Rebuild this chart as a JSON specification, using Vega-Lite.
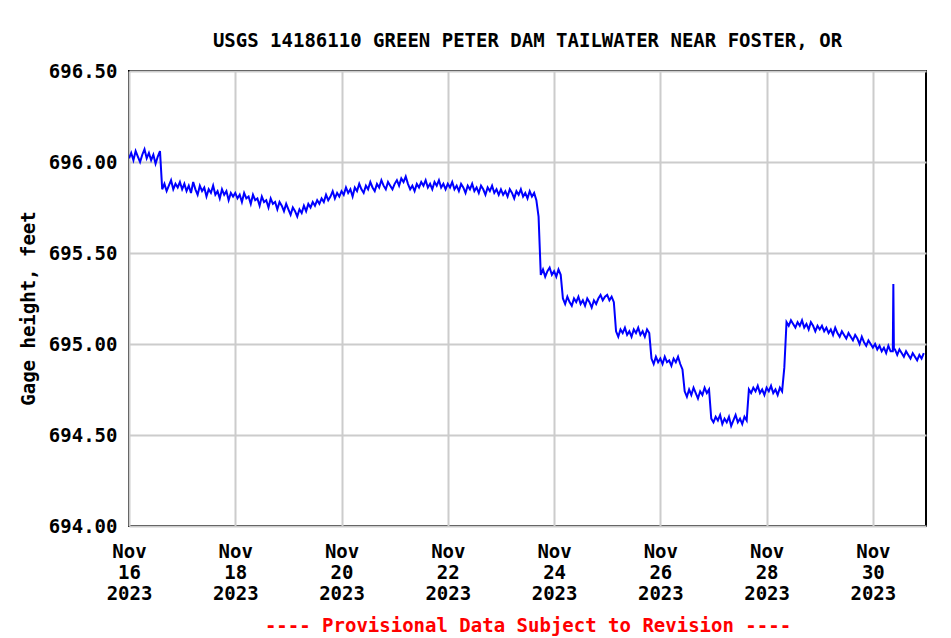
{
  "$schema": "https://vega.github.io/schema/vega-lite/v6.json",
  "width": 797,
  "height": 455,
  "autosize": "none",
  "padding": {"left": 129, "top": 71, "right": 25, "bottom": 112},
  "background": "white",
  "title": {
    "text": "USGS 14186110 GREEN PETER DAM TAILWATER NEAR FOSTER, OR",
    "font": "DejaVu Sans Mono",
    "fontSize": 19,
    "fontWeight": "bold",
    "color": "black",
    "anchor": "middle",
    "baseline": "alphabetic",
    "offset": -4
  },
  "config": {"view": {"stroke": "black", "strokeWidth": 2}},
  "data": {"values": [
{"t":"2023-11-16T00:00","v":696.02},{"t":"2023-11-16T01:00","v":696.05},{"t":"2023-11-16T02:00","v":696.01},{"t":"2023-11-16T03:00","v":696.06},{"t":"2023-11-16T04:00","v":696.03},{"t":"2023-11-16T05:00","v":696.00},{"t":"2023-11-16T06:00","v":696.04},{"t":"2023-11-16T07:00","v":696.07},{"t":"2023-11-16T08:00","v":696.02},{"t":"2023-11-16T09:00","v":696.05},{"t":"2023-11-16T10:00","v":696.01},{"t":"2023-11-16T11:00","v":696.04},{"t":"2023-11-16T12:00","v":695.99},{"t":"2023-11-16T13:00","v":696.03},{"t":"2023-11-16T14:00","v":696.06},{"t":"2023-11-16T15:00","v":695.85},{"t":"2023-11-16T16:00","v":695.88},{"t":"2023-11-16T17:00","v":695.84},{"t":"2023-11-16T18:00","v":695.87},{"t":"2023-11-16T19:00","v":695.90},{"t":"2023-11-16T20:00","v":695.85},{"t":"2023-11-16T21:00","v":695.88},{"t":"2023-11-16T22:00","v":695.86},{"t":"2023-11-16T23:00","v":695.89},
{"t":"2023-11-17T00:00","v":695.85},{"t":"2023-11-17T01:00","v":695.88},{"t":"2023-11-17T02:00","v":695.84},{"t":"2023-11-17T03:00","v":695.87},{"t":"2023-11-17T04:00","v":695.83},{"t":"2023-11-17T05:00","v":695.89},{"t":"2023-11-17T06:00","v":695.85},{"t":"2023-11-17T07:00","v":695.82},{"t":"2023-11-17T08:00","v":695.87},{"t":"2023-11-17T09:00","v":695.84},{"t":"2023-11-17T10:00","v":695.86},{"t":"2023-11-17T11:00","v":695.81},{"t":"2023-11-17T12:00","v":695.85},{"t":"2023-11-17T13:00","v":695.83},{"t":"2023-11-17T14:00","v":695.87},{"t":"2023-11-17T15:00","v":695.82},{"t":"2023-11-17T16:00","v":695.84},{"t":"2023-11-17T17:00","v":695.80},{"t":"2023-11-17T18:00","v":695.85},{"t":"2023-11-17T19:00","v":695.82},{"t":"2023-11-17T20:00","v":695.84},{"t":"2023-11-17T21:00","v":695.79},{"t":"2023-11-17T22:00","v":695.83},{"t":"2023-11-17T23:00","v":695.81},
{"t":"2023-11-18T00:00","v":695.83},{"t":"2023-11-18T01:00","v":695.80},{"t":"2023-11-18T02:00","v":695.82},{"t":"2023-11-18T03:00","v":695.78},{"t":"2023-11-18T04:00","v":695.83},{"t":"2023-11-18T05:00","v":695.80},{"t":"2023-11-18T06:00","v":695.81},{"t":"2023-11-18T07:00","v":695.77},{"t":"2023-11-18T08:00","v":695.82},{"t":"2023-11-18T09:00","v":695.79},{"t":"2023-11-18T10:00","v":695.80},{"t":"2023-11-18T11:00","v":695.76},{"t":"2023-11-18T12:00","v":695.81},{"t":"2023-11-18T13:00","v":695.78},{"t":"2023-11-18T14:00","v":695.79},{"t":"2023-11-18T15:00","v":695.75},{"t":"2023-11-18T16:00","v":695.80},{"t":"2023-11-18T17:00","v":695.77},{"t":"2023-11-18T18:00","v":695.78},{"t":"2023-11-18T19:00","v":695.74},{"t":"2023-11-18T20:00","v":695.78},{"t":"2023-11-18T21:00","v":695.76},{"t":"2023-11-18T22:00","v":695.73},{"t":"2023-11-18T23:00","v":695.77},
{"t":"2023-11-19T00:00","v":695.74},{"t":"2023-11-19T01:00","v":695.71},{"t":"2023-11-19T02:00","v":695.75},{"t":"2023-11-19T03:00","v":695.73},{"t":"2023-11-19T04:00","v":695.70},{"t":"2023-11-19T05:00","v":695.74},{"t":"2023-11-19T06:00","v":695.72},{"t":"2023-11-19T07:00","v":695.76},{"t":"2023-11-19T08:00","v":695.73},{"t":"2023-11-19T09:00","v":695.77},{"t":"2023-11-19T10:00","v":695.75},{"t":"2023-11-19T11:00","v":695.78},{"t":"2023-11-19T12:00","v":695.76},{"t":"2023-11-19T13:00","v":695.79},{"t":"2023-11-19T14:00","v":695.77},{"t":"2023-11-19T15:00","v":695.80},{"t":"2023-11-19T16:00","v":695.78},{"t":"2023-11-19T17:00","v":695.82},{"t":"2023-11-19T18:00","v":695.79},{"t":"2023-11-19T19:00","v":695.81},{"t":"2023-11-19T20:00","v":695.84},{"t":"2023-11-19T21:00","v":695.80},{"t":"2023-11-19T22:00","v":695.83},{"t":"2023-11-19T23:00","v":695.81},
{"t":"2023-11-20T00:00","v":695.84},{"t":"2023-11-20T01:00","v":695.82},{"t":"2023-11-20T02:00","v":695.86},{"t":"2023-11-20T03:00","v":695.83},{"t":"2023-11-20T04:00","v":695.85},{"t":"2023-11-20T05:00","v":695.81},{"t":"2023-11-20T06:00","v":695.86},{"t":"2023-11-20T07:00","v":695.84},{"t":"2023-11-20T08:00","v":695.88},{"t":"2023-11-20T09:00","v":695.85},{"t":"2023-11-20T10:00","v":695.83},{"t":"2023-11-20T11:00","v":695.87},{"t":"2023-11-20T12:00","v":695.85},{"t":"2023-11-20T13:00","v":695.89},{"t":"2023-11-20T14:00","v":695.86},{"t":"2023-11-20T15:00","v":695.84},{"t":"2023-11-20T16:00","v":695.88},{"t":"2023-11-20T17:00","v":695.86},{"t":"2023-11-20T18:00","v":695.90},{"t":"2023-11-20T19:00","v":695.87},{"t":"2023-11-20T20:00","v":695.85},{"t":"2023-11-20T21:00","v":695.89},{"t":"2023-11-20T22:00","v":695.87},{"t":"2023-11-20T23:00","v":695.85},
{"t":"2023-11-21T00:00","v":695.88},{"t":"2023-11-21T01:00","v":695.90},{"t":"2023-11-21T02:00","v":695.87},{"t":"2023-11-21T03:00","v":695.91},{"t":"2023-11-21T04:00","v":695.89},{"t":"2023-11-21T05:00","v":695.92},{"t":"2023-11-21T06:00","v":695.88},{"t":"2023-11-21T07:00","v":695.85},{"t":"2023-11-21T08:00","v":695.87},{"t":"2023-11-21T09:00","v":695.84},{"t":"2023-11-21T10:00","v":695.88},{"t":"2023-11-21T11:00","v":695.86},{"t":"2023-11-21T12:00","v":695.89},{"t":"2023-11-21T13:00","v":695.87},{"t":"2023-11-21T14:00","v":695.90},{"t":"2023-11-21T15:00","v":695.86},{"t":"2023-11-21T16:00","v":695.88},{"t":"2023-11-21T17:00","v":695.85},{"t":"2023-11-21T18:00","v":695.89},{"t":"2023-11-21T19:00","v":695.87},{"t":"2023-11-21T20:00","v":695.90},{"t":"2023-11-21T21:00","v":695.86},{"t":"2023-11-21T22:00","v":695.88},{"t":"2023-11-21T23:00","v":695.85},
{"t":"2023-11-22T00:00","v":695.88},{"t":"2023-11-22T01:00","v":695.86},{"t":"2023-11-22T02:00","v":695.89},{"t":"2023-11-22T03:00","v":695.85},{"t":"2023-11-22T04:00","v":695.87},{"t":"2023-11-22T05:00","v":695.84},{"t":"2023-11-22T06:00","v":695.88},{"t":"2023-11-22T07:00","v":695.86},{"t":"2023-11-22T08:00","v":695.83},{"t":"2023-11-22T09:00","v":695.87},{"t":"2023-11-22T10:00","v":695.85},{"t":"2023-11-22T11:00","v":695.88},{"t":"2023-11-22T12:00","v":695.84},{"t":"2023-11-22T13:00","v":695.86},{"t":"2023-11-22T14:00","v":695.83},{"t":"2023-11-22T15:00","v":695.87},{"t":"2023-11-22T16:00","v":695.85},{"t":"2023-11-22T17:00","v":695.82},{"t":"2023-11-22T18:00","v":695.86},{"t":"2023-11-22T19:00","v":695.84},{"t":"2023-11-22T20:00","v":695.87},{"t":"2023-11-22T21:00","v":695.83},{"t":"2023-11-22T22:00","v":695.85},{"t":"2023-11-22T23:00","v":695.82},
{"t":"2023-11-23T00:00","v":695.85},{"t":"2023-11-23T01:00","v":695.82},{"t":"2023-11-23T02:00","v":695.84},{"t":"2023-11-23T03:00","v":695.81},{"t":"2023-11-23T04:00","v":695.85},{"t":"2023-11-23T05:00","v":695.83},{"t":"2023-11-23T06:00","v":695.80},{"t":"2023-11-23T07:00","v":695.84},{"t":"2023-11-23T08:00","v":695.82},{"t":"2023-11-23T09:00","v":695.85},{"t":"2023-11-23T10:00","v":695.81},{"t":"2023-11-23T11:00","v":695.83},{"t":"2023-11-23T12:00","v":695.80},{"t":"2023-11-23T13:00","v":695.84},{"t":"2023-11-23T14:00","v":695.81},{"t":"2023-11-23T15:00","v":695.83},{"t":"2023-11-23T16:00","v":695.79},{"t":"2023-11-23T17:00","v":695.70},{"t":"2023-11-23T18:00","v":695.38},{"t":"2023-11-23T19:00","v":695.41},{"t":"2023-11-23T20:00","v":695.37},{"t":"2023-11-23T21:00","v":695.40},{"t":"2023-11-23T22:00","v":695.42},{"t":"2023-11-23T23:00","v":695.38},
{"t":"2023-11-24T00:00","v":695.40},{"t":"2023-11-24T01:00","v":695.37},{"t":"2023-11-24T02:00","v":695.41},{"t":"2023-11-24T03:00","v":695.38},{"t":"2023-11-24T04:00","v":695.25},{"t":"2023-11-24T05:00","v":695.22},{"t":"2023-11-24T06:00","v":695.26},{"t":"2023-11-24T07:00","v":695.23},{"t":"2023-11-24T08:00","v":695.21},{"t":"2023-11-24T09:00","v":695.25},{"t":"2023-11-24T10:00","v":695.23},{"t":"2023-11-24T11:00","v":695.26},{"t":"2023-11-24T12:00","v":695.22},{"t":"2023-11-24T13:00","v":695.24},{"t":"2023-11-24T14:00","v":695.21},{"t":"2023-11-24T15:00","v":695.25},{"t":"2023-11-24T16:00","v":695.23},{"t":"2023-11-24T17:00","v":695.20},{"t":"2023-11-24T18:00","v":695.24},{"t":"2023-11-24T19:00","v":695.22},{"t":"2023-11-24T20:00","v":695.25},{"t":"2023-11-24T21:00","v":695.27},{"t":"2023-11-24T22:00","v":695.24},{"t":"2023-11-24T23:00","v":695.26},
{"t":"2023-11-25T00:00","v":695.27},{"t":"2023-11-25T01:00","v":695.24},{"t":"2023-11-25T02:00","v":695.26},{"t":"2023-11-25T03:00","v":695.23},{"t":"2023-11-25T04:00","v":695.07},{"t":"2023-11-25T05:00","v":695.04},{"t":"2023-11-25T06:00","v":695.08},{"t":"2023-11-25T07:00","v":695.06},{"t":"2023-11-25T08:00","v":695.09},{"t":"2023-11-25T09:00","v":695.05},{"t":"2023-11-25T10:00","v":695.07},{"t":"2023-11-25T11:00","v":695.04},{"t":"2023-11-25T12:00","v":695.08},{"t":"2023-11-25T13:00","v":695.06},{"t":"2023-11-25T14:00","v":695.09},{"t":"2023-11-25T15:00","v":695.05},{"t":"2023-11-25T16:00","v":695.07},{"t":"2023-11-25T17:00","v":695.04},{"t":"2023-11-25T18:00","v":695.08},{"t":"2023-11-25T19:00","v":695.06},{"t":"2023-11-25T20:00","v":694.92},{"t":"2023-11-25T21:00","v":694.89},{"t":"2023-11-25T22:00","v":694.93},{"t":"2023-11-25T23:00","v":694.90},
{"t":"2023-11-26T00:00","v":694.92},{"t":"2023-11-26T01:00","v":694.89},{"t":"2023-11-26T02:00","v":694.93},{"t":"2023-11-26T03:00","v":694.90},{"t":"2023-11-26T04:00","v":694.91},{"t":"2023-11-26T05:00","v":694.88},{"t":"2023-11-26T06:00","v":694.92},{"t":"2023-11-26T07:00","v":694.90},{"t":"2023-11-26T08:00","v":694.93},{"t":"2023-11-26T09:00","v":694.89},{"t":"2023-11-26T10:00","v":694.86},{"t":"2023-11-26T11:00","v":694.74},{"t":"2023-11-26T12:00","v":694.71},{"t":"2023-11-26T13:00","v":694.75},{"t":"2023-11-26T14:00","v":694.72},{"t":"2023-11-26T15:00","v":694.76},{"t":"2023-11-26T16:00","v":694.73},{"t":"2023-11-26T17:00","v":694.70},{"t":"2023-11-26T18:00","v":694.74},{"t":"2023-11-26T19:00","v":694.72},{"t":"2023-11-26T20:00","v":694.76},{"t":"2023-11-26T21:00","v":694.73},{"t":"2023-11-26T22:00","v":694.75},{"t":"2023-11-26T23:00","v":694.59},
{"t":"2023-11-27T00:00","v":694.57},{"t":"2023-11-27T01:00","v":694.60},{"t":"2023-11-27T02:00","v":694.58},{"t":"2023-11-27T03:00","v":694.61},{"t":"2023-11-27T04:00","v":694.56},{"t":"2023-11-27T05:00","v":694.59},{"t":"2023-11-27T06:00","v":694.57},{"t":"2023-11-27T07:00","v":694.60},{"t":"2023-11-27T08:00","v":694.55},{"t":"2023-11-27T09:00","v":694.58},{"t":"2023-11-27T10:00","v":694.61},{"t":"2023-11-27T11:00","v":694.57},{"t":"2023-11-27T12:00","v":694.59},{"t":"2023-11-27T13:00","v":694.56},{"t":"2023-11-27T14:00","v":694.60},{"t":"2023-11-27T15:00","v":694.58},{"t":"2023-11-27T16:00","v":694.75},{"t":"2023-11-27T17:00","v":694.73},{"t":"2023-11-27T18:00","v":694.76},{"t":"2023-11-27T19:00","v":694.74},{"t":"2023-11-27T20:00","v":694.77},{"t":"2023-11-27T21:00","v":694.73},{"t":"2023-11-27T22:00","v":694.75},{"t":"2023-11-27T23:00","v":694.72},
{"t":"2023-11-28T00:00","v":694.76},{"t":"2023-11-28T01:00","v":694.74},{"t":"2023-11-28T02:00","v":694.77},{"t":"2023-11-28T03:00","v":694.73},{"t":"2023-11-28T04:00","v":694.75},{"t":"2023-11-28T05:00","v":694.72},{"t":"2023-11-28T06:00","v":694.76},{"t":"2023-11-28T07:00","v":694.74},{"t":"2023-11-28T08:00","v":694.87},{"t":"2023-11-28T09:00","v":695.12},{"t":"2023-11-28T10:00","v":695.10},{"t":"2023-11-28T11:00","v":695.13},{"t":"2023-11-28T12:00","v":695.11},{"t":"2023-11-28T13:00","v":695.09},{"t":"2023-11-28T14:00","v":695.12},{"t":"2023-11-28T15:00","v":695.10},{"t":"2023-11-28T16:00","v":695.13},{"t":"2023-11-28T17:00","v":695.09},{"t":"2023-11-28T18:00","v":695.11},{"t":"2023-11-28T19:00","v":695.08},{"t":"2023-11-28T20:00","v":695.12},{"t":"2023-11-28T21:00","v":695.10},{"t":"2023-11-28T22:00","v":695.07},{"t":"2023-11-28T23:00","v":695.10},
{"t":"2023-11-29T00:00","v":695.08},{"t":"2023-11-29T01:00","v":695.10},{"t":"2023-11-29T02:00","v":695.07},{"t":"2023-11-29T03:00","v":695.09},{"t":"2023-11-29T04:00","v":695.06},{"t":"2023-11-29T05:00","v":695.08},{"t":"2023-11-29T06:00","v":695.05},{"t":"2023-11-29T07:00","v":695.09},{"t":"2023-11-29T08:00","v":695.06},{"t":"2023-11-29T09:00","v":695.04},{"t":"2023-11-29T10:00","v":695.07},{"t":"2023-11-29T11:00","v":695.05},{"t":"2023-11-29T12:00","v":695.03},{"t":"2023-11-29T13:00","v":695.06},{"t":"2023-11-29T14:00","v":695.04},{"t":"2023-11-29T15:00","v":695.02},{"t":"2023-11-29T16:00","v":695.05},{"t":"2023-11-29T17:00","v":695.03},{"t":"2023-11-29T18:00","v":695.00},{"t":"2023-11-29T19:00","v":695.04},{"t":"2023-11-29T20:00","v":695.01},{"t":"2023-11-29T21:00","v":694.99},{"t":"2023-11-29T22:00","v":695.02},{"t":"2023-11-29T23:00","v":695.00},
{"t":"2023-11-30T00:00","v":694.98},{"t":"2023-11-30T01:00","v":695.00},{"t":"2023-11-30T02:00","v":694.97},{"t":"2023-11-30T03:00","v":694.99},{"t":"2023-11-30T04:00","v":694.96},{"t":"2023-11-30T05:00","v":694.98},{"t":"2023-11-30T06:00","v":694.95},{"t":"2023-11-30T07:00","v":694.99},{"t":"2023-11-30T08:00","v":694.96},{"t":"2023-11-30T09:00","v":694.96},{"t":"2023-11-30T09:15","v":695.33},{"t":"2023-11-30T09:30","v":694.97},{"t":"2023-11-30T10:00","v":694.97},{"t":"2023-11-30T11:00","v":694.94},{"t":"2023-11-30T12:00","v":694.97},{"t":"2023-11-30T13:00","v":694.95},{"t":"2023-11-30T14:00","v":694.93},{"t":"2023-11-30T15:00","v":694.96},{"t":"2023-11-30T16:00","v":694.94},{"t":"2023-11-30T17:00","v":694.92},{"t":"2023-11-30T18:00","v":694.95},{"t":"2023-11-30T19:00","v":694.93},{"t":"2023-11-30T20:00","v":694.91},{"t":"2023-11-30T21:00","v":694.94},{"t":"2023-11-30T22:00","v":694.92},{"t":"2023-11-30T23:00","v":694.95}
  ]},
  "mark": {"type": "line", "color": "#0000ff", "strokeWidth": 2, "clip": true},
  "encoding": {
    "x": {
      "field": "t",
      "type": "temporal",
      "scale": {"domain": [{"year": 2023, "month": 11, "date": 16}, {"year": 2023, "month": 12, "date": 1}]},
      "axis": {
        "values": [
          {"year": 2023, "month": 11, "date": 16},
          {"year": 2023, "month": 11, "date": 18},
          {"year": 2023, "month": 11, "date": 20},
          {"year": 2023, "month": 11, "date": 22},
          {"year": 2023, "month": 11, "date": 24},
          {"year": 2023, "month": 11, "date": 26},
          {"year": 2023, "month": 11, "date": 28},
          {"year": 2023, "month": 11, "date": 30}
        ],
        "labelExpr": "[timeFormat(datum.value, '%b'), timeFormat(datum.value, '%d'), timeFormat(datum.value, '%Y')]",
        "labelFont": "DejaVu Sans Mono",
        "labelFontSize": 19,
        "labelFontWeight": "bold",
        "labelColor": "black",
        "labelLineHeight": 21,
        "labelPadding": 16,
        "labelFlush": false,
        "labelOverlap": false,
        "ticks": false,
        "domain": false,
        "grid": true,
        "gridColor": "#cccccc",
        "gridWidth": 2,
        "title": "---- Provisional Data Subject to Revision ----",
        "titleColor": "#ff0000",
        "titleFont": "DejaVu Sans Mono",
        "titleFontSize": 19,
        "titleFontWeight": "bold",
        "titleBaseline": "alphabetic",
        "titleY": 105
      }
    },
    "y": {
      "field": "v",
      "type": "quantitative",
      "scale": {"domain": [694, 696.5], "zero": false, "nice": false},
      "axis": {
        "values": [694, 694.5, 695, 695.5, 696, 696.5],
        "format": ".2f",
        "labelFont": "DejaVu Sans Mono",
        "labelFontSize": 19,
        "labelFontWeight": "bold",
        "labelColor": "black",
        "labelPadding": 12,
        "ticks": false,
        "domain": false,
        "grid": true,
        "gridColor": "#cccccc",
        "gridWidth": 2,
        "title": "Gage height, feet",
        "titleFont": "DejaVu Sans Mono",
        "titleFontSize": 19,
        "titleFontWeight": "bold",
        "titleColor": "black",
        "titleX": -101,
        "titleY": 237,
        "titleAngle": -90,
        "titleAlign": "center",
        "titleBaseline": "middle"
      }
    }
  }
}
